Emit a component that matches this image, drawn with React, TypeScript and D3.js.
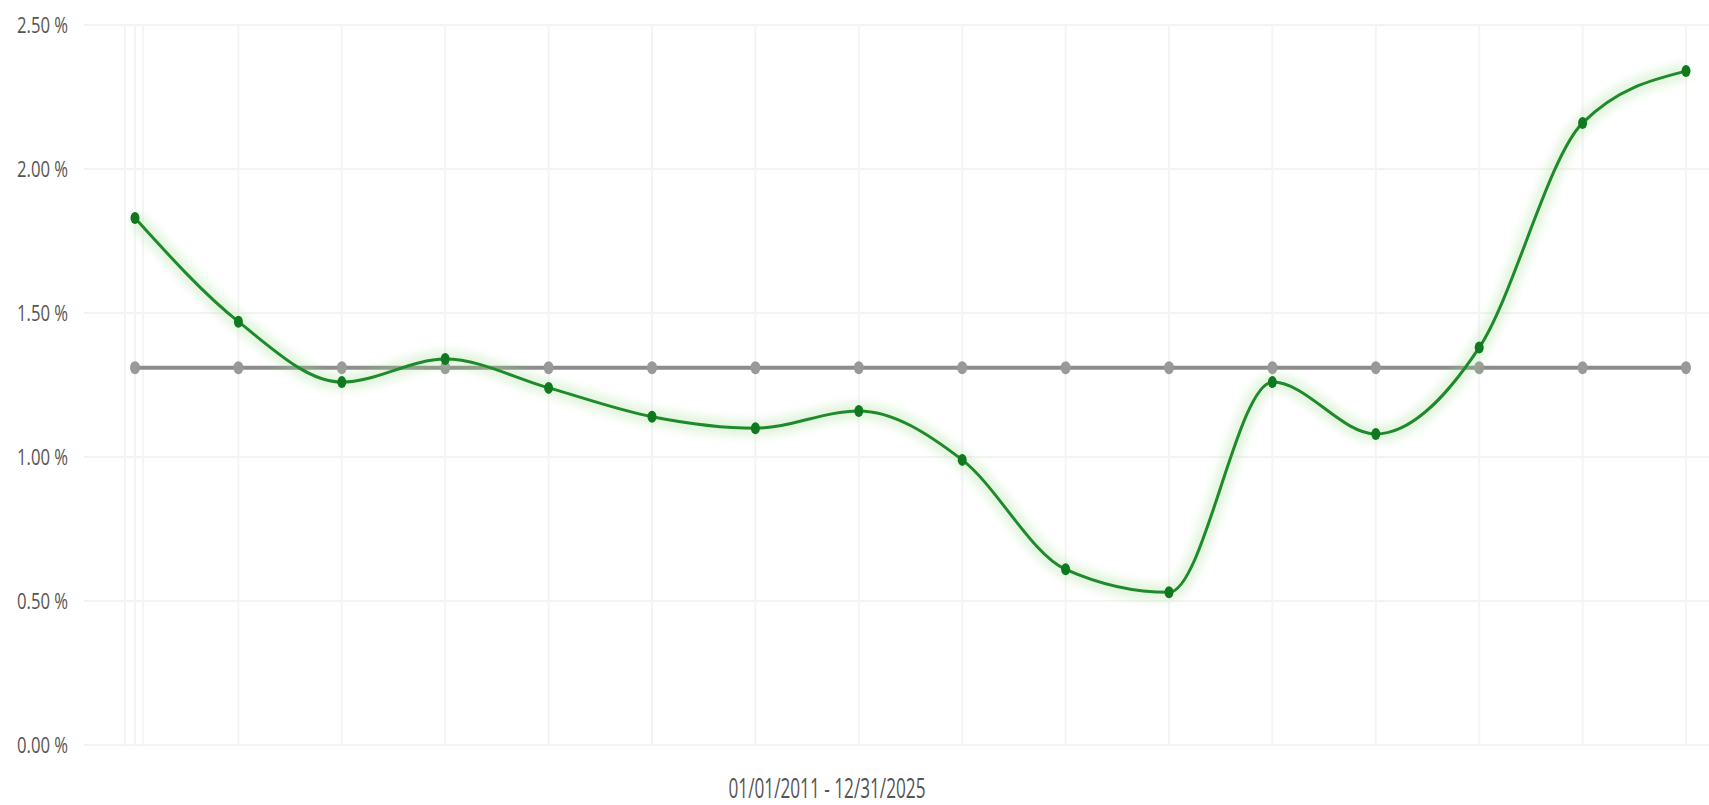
import React from "react";
import * as d3 from "d3";

const categories: string[] = [
  "2011", "2012", "2013", "2014", "2015", "2016", "2017", "2018",
  "2019", "2020", "2021", "2022", "2023", "2024", "2025", "2026",
];
const seriesValues: number[] = [
  1.83, 1.47, 1.26, 1.34, 1.24, 1.14, 1.1, 1.16,
  0.99, 0.61, 0.53, 1.26, 1.08, 1.38, 2.16, 2.34,
];
const averageValues: number[] = [
  1.31, 1.31, 1.31, 1.31, 1.31, 1.31, 1.31, 1.31,
  1.31, 1.31, 1.31, 1.31, 1.31, 1.31, 1.31, 1.31,
];
const yTicks: number[] = [0, 0.5, 1, 1.5, 2, 2.5];
const xAxisTitle = "01/01/2011 - 12/31/2025";

const W = 1709;
const H = 805;

export default function App() {
  const x = d3.scalePoint<string>().domain(categories).range([135, 1686]);
  const y = d3.scaleLinear().domain([0, 2.5]).range([745, 25]);

  const line = d3
    .line<number>()
    .x((_, i) => x(categories[i]) as number)
    .y((d) => y(d))
    .curve(d3.curveMonotoneX);

  const greenPath = line(seriesValues) || "";
  const grayPath = line(averageValues) || "";
  const fmt = (v: number) => `${v.toFixed(2)} %`;
  const font = "'Open Sans', 'DejaVu Sans', sans-serif";
  const x0 = x(categories[0]) as number;

  return (
    <svg
      width={W}
      height={H}
      style={{ position: "absolute", left: 0, top: 0, background: "#fff" }}
    >
      <defs>
        <filter id="glow" x="-5%" y="-20%" width="110%" height="140%">
          <feGaussianBlur stdDeviation="5" />
        </filter>
        <filter id="shadow" x="-5%" y="-50%" width="110%" height="200%">
          <feGaussianBlur stdDeviation="2" />
        </filter>
      </defs>

      {/* horizontal grid */}
      {yTicks.map((t) => (
        <line
          key={"h" + t}
          x1={84}
          x2={W}
          y1={y(t)}
          y2={y(t)}
          stroke="#f3f3f3"
          strokeWidth={2}
        />
      ))}
      {/* vertical grid */}
      {categories.map((c) => (
        <line
          key={"v" + c}
          x1={x(c) as number}
          x2={x(c) as number}
          y1={y(2.5)}
          y2={y(0)}
          stroke="#f4f4f4"
          strokeWidth={2}
        />
      ))}
      <line x1={x0 - 10} x2={x0 - 10} y1={y(2.5)} y2={y(0)} stroke="#f5f5f5" strokeWidth={2} />
      <line x1={x0 + 8} x2={x0 + 8} y1={y(2.5)} y2={y(0)} stroke="#f5f5f5" strokeWidth={2} />

      {/* y labels */}
      {yTicks.map((t) => (
        <text
          key={"l" + t}
          x={68}
          y={y(t) + 8}
          textAnchor="end"
          fontFamily={font}
          fontSize={22}
          fill="#555"
          textLength={51}
          lengthAdjust="spacingAndGlyphs"
        >
          {fmt(t)}
        </text>
      ))}

      {/* x axis title */}
      <text
        x={827}
        y={798}
        textAnchor="middle"
        fontFamily={font}
        fontSize={28}
        fill="#555"
        textLength={197}
        lengthAdjust="spacingAndGlyphs"
      >
        {xAxisTitle}
      </text>

      {/* average line */}
      <path d={grayPath} fill="none" stroke="#bbb" strokeWidth={6} opacity={0.5} filter="url(#shadow)" transform="translate(0,2)" />
      <path d={grayPath} fill="none" stroke="#8c8c8c" strokeWidth={4} />
      {averageValues.map((v, i) => (
        <ellipse
          key={"g" + i}
          cx={x(categories[i]) as number}
          cy={y(v)}
          rx={5}
          ry={6.5}
          fill="#999"
        />
      ))}

      {/* green glow */}
      <path d={greenPath} fill="none" stroke="#9ddc8f" strokeWidth={16} opacity={0.3} filter="url(#glow)" />
      <path d={greenPath} fill="none" stroke="#1f8a2b" strokeWidth={3} />
      {seriesValues.map((v, i) => (
        <ellipse
          key={"p" + i}
          cx={x(categories[i]) as number}
          cy={y(v)}
          rx={4.5}
          ry={6}
          fill="#10791f"
        />
      ))}
    </svg>
  );
}
